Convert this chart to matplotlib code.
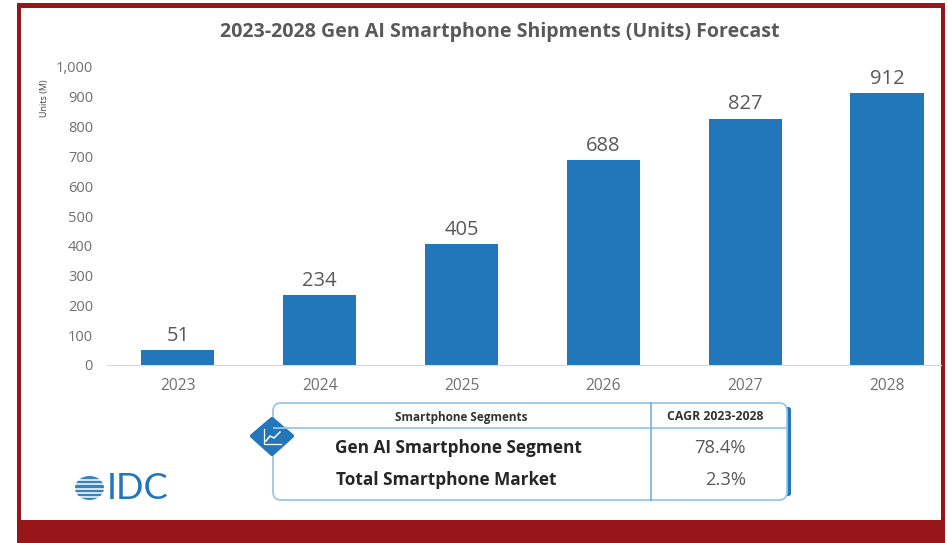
import numpy as np
import matplotlib
matplotlib.use("Agg")
import matplotlib.pyplot as plt
from matplotlib.patches import Rectangle, FancyBboxPatch, Polygon, Ellipse

plt.rcParams['font.family'] = ['Open Sans', 'DejaVu Sans']

# data
years = ['2023', '2024', '2025', '2026', '2027', '2028']
shipments = [51, 234, 405, 688, 827, 912]
y_ticks = [0, 100, 200, 300, 400, 500, 600, 700, 800, 900, 1000]
table_header = ['Smartphone Segments', 'CAGR 2023-2028']
segments = ['Gen AI Smartphone Segment', 'Total Smartphone Market']
cagr = ['78.4%', '2.3%']

W, H = 948, 543
RED = '#97161a'
BLUE = '#2277bb'
GREY = '#595959'
TICK = '#707070'
LIGHT = '#9cc6e6'

fig = plt.figure(figsize=(W / 100, H / 100), dpi=100, facecolor='white')

# overlay in pixel coordinates for frame, table and logo
bg = fig.add_axes([0, 0, 1, 1], zorder=0)
bg.set_xlim(0, W)
bg.set_ylim(H, 0)
bg.axis('off')
bg.add_patch(Rectangle((17, 3), 928, 540, fc=RED, ec='none'))
bg.add_patch(Rectangle((21, 8), 920, 512, fc='white', ec='none'))

# bar chart
ax = fig.add_axes([107 / W, 1 - 365 / H, (941 - 107) / W, 298 / H], zorder=1)
ax.patch.set_alpha(0)
x = np.arange(len(years))
ax.bar(x, shipments, width=0.515, color=BLUE)
for xi, v in zip(x, shipments):
    ax.text(xi, v + 14, str(v), ha='center', va='bottom', fontsize=14.5, color=GREY)
ax.set_xlim(-0.5, (941 - 178) / 141.8)
ax.set_ylim(0, 1000)
ax.set_xticks(x)
ax.set_xticklabels(years)
ax.set_yticks(y_ticks)
ax.set_yticklabels([f'{t:,}' for t in y_ticks])
ax.tick_params(axis='x', length=0, labelsize=11.2, labelcolor=TICK, pad=9)
ax.tick_params(axis='y', length=0, labelsize=10.5, labelcolor=TICK, pad=10)
for s in ['top', 'right', 'left']:
    ax.spines[s].set_visible(False)
ax.spines['bottom'].set_color('#d8d8d8')
ax.spines['bottom'].set_linewidth(0.8)

top = fig.add_axes([0, 0, 1, 1], zorder=2)
top.set_xlim(0, W)
top.set_ylim(H, 0)
top.axis('off')

top.text(500, 32, '2023-2028 Gen AI Smartphone Shipments (Units) Forecast', ha='center', va='center',
         fontsize=14.1, fontweight='bold', color=GREY)
top.text(45, 98, 'Units (M)', rotation=90, ha='center', va='center', fontsize=6.5, color='#404040')

# table
top.add_patch(FancyBboxPatch((785, 407), 6, 89, boxstyle='round,pad=0,rounding_size=2.5', fc=BLUE, ec='none'))
top.add_patch(FancyBboxPatch((273, 403), 514, 97, boxstyle='round,pad=0,rounding_size=8',
                             fc='white', ec=LIGHT, lw=1.3))
top.plot([274, 787], [428, 428], color=LIGHT, lw=1.3)
top.plot([651, 651], [403, 500], color='#6fa8d6', lw=1.1)
top.text(461, 417, table_header[0], ha='center', va='center', fontsize=8.5, fontweight='bold', color='#333333')
top.text(715, 417, table_header[1], ha='center', va='center', fontsize=8.8, fontweight='bold', color='#333333')
top.text(335, 448, segments[0], ha='left', va='center', fontsize=12.4, fontweight='bold', color='#262626')
top.text(336, 480, segments[1], ha='left', va='center', fontsize=12.4, fontweight='bold', color='#262626')
top.text(746, 448, cagr[0], ha='right', va='center', fontsize=13.2, color=GREY)
top.text(746, 480, cagr[1], ha='right', va='center', fontsize=13.2, color=GREY)

# diamond icon
top.add_patch(Polygon([(272, 419), (292, 436), (272, 454), (252, 436)], closed=True,
                      fc=BLUE, ec=BLUE, lw=3, joinstyle='round'))
top.plot([264, 264, 281], [429, 444, 444], color='white', lw=0.9)
top.plot([266, 270, 274, 280], [441, 436, 438, 432], color='white', lw=1.1)

# IDC logo
top.add_patch(Ellipse((89.5, 488), 29, 24, fc=BLUE, ec='none', alpha=0.9))
for yy in [479.5, 484, 488.5, 493, 497]:
    top.plot([73, 106], [yy, yy], color='white', lw=1.1)
top.text(138, 488.5, 'IDC', ha='center', va='center', fontsize=26, color=BLUE, family=['Lato', 'DejaVu Sans'])

fig.savefig('out.png', dpi=100)
